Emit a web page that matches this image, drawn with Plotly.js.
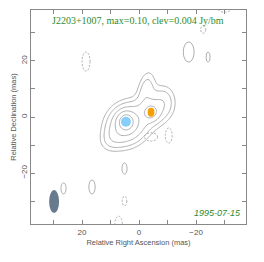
<!DOCTYPE html>
<html><head><meta charset="utf-8">
<script src="https://cdn.plot.ly/plotly-3.0.1.min.js"></script>
<style>html,body{margin:0;padding:0;background:#fff}</style>
</head><body><div id="c" style="width:264px;height:262px"></div>
<script>
// Source model components (image-plane, mas, Jy/beam)
const compX    = [4.6, 4.0, -4.2, -5.5, 9.0, -2.5, -9.0];
const compY    = [-1.7, -2.5, 1.7, 3.0, -7.5, 10.0, 5.5];
const compPeak = [0.060, 0.035, 0.022, 0.012, 0.007, 0.010, 0.007];
const compMaj  = [4.5, 11.0, 4.5, 10.0, 8.0, 10.0, 9.0];
const compMin  = [4.0, 9.5, 4.0, 8.0, 6.0, 4.5, 6.0];
const compPA   = [0, -40, 0, -20, -45, -10, 0];
const clev = 0.004;
const levelStep = 1.9;
const nLevels = 6;

// Model-fit components (dots)
const dotX = [4.6, -4.2], dotY = [-1.7, 1.7];
const dotRX = [1.75, 1.2], dotRY = [1.8, 1.6];
const dotColor = ['#87cefa', '#f5a000'];

// Noise islands (x, y, rx, ry, sign)
const islX  = [18.6, -17.4, -24.2, -22.5, -30.0, -4.2, -10.4, 5.1, 26.5, 16.5, 5.1, 7.2];
const islY  = [19.8, 23.2, 21.4, 31.2, 40.0, -7.1, -6.6, -18.4, -25.5, -25.0, -30.0, -38.2];
const islRX = [1.4, 1.9, 0.7, 0.9, 3.0, 2.3, 1.2, 0.9, 0.9, 1.1, 0.8, 1.3];
const islRY = [3.4, 3.6, 1.8, 1.3, 2.6, 1.5, 2.7, 2.0, 2.0, 2.5, 1.7, 2.8];
const islNeg = [1, 0, 0, 1, 1, 1, 1, 0, 0, 0, 1, 1];

// Beam
const beamX = 29.8, beamY = -30.2, beamMaj = 8.2, beamMin = 3.5;

const titleText = 'J2203+1007, max=0.10, clev=0.004 Jy/bm';
const dateText = '1995-07-15';

// grid
const gx = [], gy = [];
for (let v = -38; v <= 38.001; v += 0.4) { gx.push(+v.toFixed(2)); gy.push(+v.toFixed(2)); }
const z = gy.map(yy => gx.map(xx => {
  let s = 0;
  for (let i = 0; i < compX.length; i++) {
    const th = compPA[i] * Math.PI / 180;
    const dx = xx - compX[i], dy = yy - compY[i];
    const u = dx * Math.sin(th) + dy * Math.cos(th);
    const w = dx * Math.cos(th) - dy * Math.sin(th);
    const a = compMaj[i], b = compMin[i];
    s += compPeak[i] * Math.exp(-4 * Math.LN2 * (u * u / (a * a) + w * w / (b * b)));
  }
  return Math.log(Math.max(s, 1e-9) / clev) / Math.log(levelStep);
}));

const gray = '#9a9a9a';
const traces = [{
  type: 'contour', x: gx, y: gy, z: z,
  autocontour: false,
  contours: {start: 0, end: nLevels - 1, size: 1, coloring: 'lines'},
  colorscale: [[0, gray], [1, gray]], showscale: false,
  line: {width: 0.8, smoothing: 1}, hoverinfo: 'skip'
}];

const shapes = [];
for (let i = 0; i < islX.length; i++) {
  shapes.push({type: 'circle', xref: 'x', yref: 'y',
    x0: islX[i] - islRX[i], x1: islX[i] + islRX[i], y0: islY[i] - islRY[i], y1: islY[i] + islRY[i],
    line: {color: gray, width: 0.8, dash: islNeg[i] ? '2px,1.5px' : 'solid'}, layer: 'below'});
}
shapes.push({type: 'circle', xref: 'x', yref: 'y',
  x0: beamX - beamMin / 2, x1: beamX + beamMin / 2, y0: beamY - beamMaj / 2, y1: beamY + beamMaj / 2,
  fillcolor: '#687b8e', line: {width: 0}});
for (let i = 0; i < dotX.length; i++) {
  shapes.push({type: 'circle', xref: 'x', yref: 'y',
    x0: dotX[i] - dotRX[i], x1: dotX[i] + dotRX[i], y0: dotY[i] - dotRY[i], y1: dotY[i] + dotRY[i],
    fillcolor: dotColor[i], line: {width: 0}});
}

const axCommon = {
  showgrid: false, zeroline: false, ticks: 'inside', ticklen: 4, tickwidth: 1, tickcolor: '#888',
  showline: true, linecolor: '#888', linewidth: 1, mirror: 'allticks',
  minor: {dtick: 10, ticks: 'inside', ticklen: 4, tickcolor: '#888'},
  tickfont: {family: 'Liberation Sans, Arial', size: 8, color: '#555'}
};
const layout = {
  width: 264, height: 262, margin: {l: 31, r: 18, t: 10, b: 38},
  paper_bgcolor: '#fff', plot_bgcolor: '#fff', showlegend: false,
  xaxis: Object.assign({}, axCommon, {range: [37.9, -37.5], tickvals: [20, 0, -20], ticktext: ['20', '0', '\u221220'],
    title: {text: 'Relative Right Ascension (mas)', font: {family: 'Liberation Sans, Arial', size: 7.5, color: '#555'}, standoff: 4}}),
  yaxis: Object.assign({}, axCommon, {range: [-38.2, 38.2], tickvals: [20, 0, -20], ticktext: ['20', '0', '\u221220'], tickangle: -90,
    title: {text: 'Relative Declination (mas)', font: {family: 'Liberation Sans, Arial', size: 7.5, color: '#555'}, standoff: 2}}),
  shapes: shapes,
  annotations: [
    {text: titleText, xref: 'x', yref: 'y', x: 0.3, y: 34.6, showarrow: false,
     font: {family: 'Liberation Serif, Times New Roman, serif', size: 10, color: '#2e8b2e'}},
    {text: '<i>' + dateText + '</i>', xref: 'x', yref: 'y', x: -36.5, y: -34.3, xanchor: 'right', showarrow: false,
     font: {family: 'Liberation Sans, Arial', size: 9, color: '#2e8b2e'}}
  ]
};
Plotly.newPlot('c', traces, layout, {staticPlot: true, displayModeBar: false});
</script></body></html>
